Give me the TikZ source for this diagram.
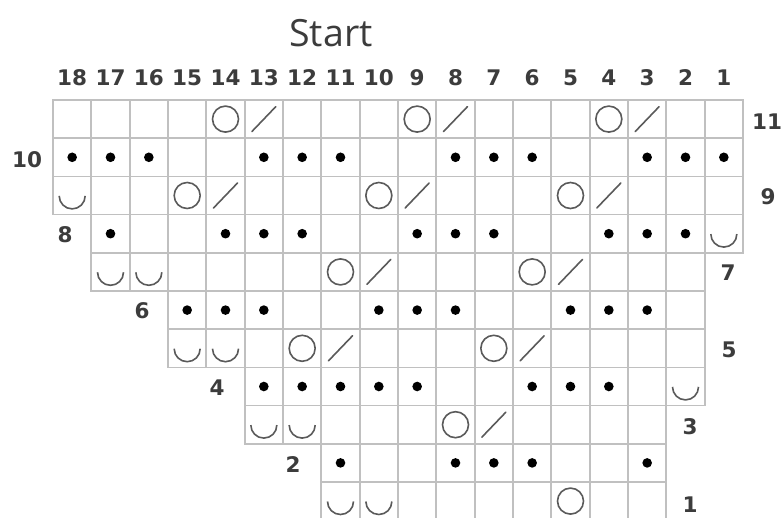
\documentclass[tikz,border=0pt]{standalone}
\usepackage{fontspec}
\setmainfont{DejaVu Sans}
\newfontfamily\titlefont{Open Sans}
\definecolor{gridgray}{HTML}{C0C0C0}
\definecolor{symgray}{HTML}{5A5A5A}
\definecolor{txtgray}{HTML}{3C3C3C}
\newcommand\cellx[1]{(53+(18-#1)*38.333)}
\newcommand\celly[1]{(100+(11-#1)*38.2)}
\begin{document}
\begin{tikzpicture}[x=1pt,y=-1pt,
  gridcell/.style={draw=gridgray, line width=1.7pt},
  yo/.style={draw=symgray, line width=1.6pt},
  ktog/.style={draw=symgray, line width=1.6pt, line cap=round},
  purl/.style={fill=black},
  slip/.style={draw=symgray, line width=1.6pt},
  lbl/.style={text=txtgray, font=\fontsize{21.5}{22}\selectfont\bfseries, inner sep=0pt}]
\useasboundingbox (0,0) rectangle (782,518);
\clip (0,0) rectangle (782,518);
\fill[white] (0,0) rectangle (782,518);
% cells
\foreach \r/\a/\b in {11/18/1,10/18/1,9/18/1,8/17/1,7/17/2,6/15/2,5/15/2,4/13/2,3/13/3,2/11/3,1/11/3}{
  \foreach \c in {\b,...,\a}{
    \draw[gridcell] ({\cellx{\c}},{\celly{\r}}) rectangle ({\cellx{\c}+38.333},{\celly{\r}+38.2});
  }
}
% yarn overs
\foreach \r/\c in {11/14,11/9,11/4,9/15,9/10,9/5,7/11,7/6,5/12,5/7,3/8,1/5}{
  \draw[yo] ({\cellx{\c}+19.17},{\celly{\r}+19.1}) circle[radius=13];
}
% k2tog
\foreach \r/\c in {11/13,11/8,11/3,9/14,9/9,9/4,7/10,7/5,5/11,5/6,3/7}{
  \draw[ktog] ({\cellx{\c}+19.17-12},{\celly{\r}+19.1+12.5}) -- ({\cellx{\c}+19.17+12},{\celly{\r}+19.1-12.5});
}
% purl dots
\foreach \r/\c in {10/18,10/17,10/16,10/13,10/12,10/11,10/8,10/7,10/6,10/3,10/2,10/1,
  8/17,8/14,8/13,8/12,8/9,8/8,8/7,8/4,8/3,8/2,
  6/15,6/14,6/13,6/10,6/9,6/8,6/5,6/4,6/3,
  4/13,4/12,4/11,4/10,4/9,4/6,4/5,4/4,
  2/11,2/8,2/7,2/6,2/3}{
  \fill[purl] ({\cellx{\c}+19.17},{\celly{\r}+19.1}) circle[radius=4.8];
}
% slip arcs
\foreach \r/\c in {9/18,8/1,7/17,7/16,5/15,5/14,4/2,3/13,3/12,1/11,1/10}{
  \draw[slip] ({\cellx{\c}+19.17-13},{\celly{\r}+19.5}) arc[start angle=180, end angle=0, radius=13];
}
% title
\node[text=txtgray, font=\titlefont\fontsize{37.5}{38}\selectfont, inner sep=0pt] (start) at (331,33) {Start};
% column numbers
\foreach \c in {1,...,18}{
  \node[lbl] (h\c) at ({\cellx{\c}+19.17},78) {\c};
}
% row numbers
\node[lbl] (r11) at (767,122) {11};
\node[lbl] (r10) at (27,160) {10};
\node[lbl] (r9) at (768,197) {9};
\node[lbl] (r8) at (65,235) {8};
\node[lbl] (r7) at (728,273) {7};
\node[lbl] (r6) at (142,311) {6};
\node[lbl] (r5) at (729,350) {5};
\node[lbl] (r4) at (217,388) {4};
\node[lbl] (r3) at (690,427) {3};
\node[lbl] (r2) at (293,465) {2};
\node[lbl] (r1) at (690,505) {1};
\end{tikzpicture}
\end{document}
